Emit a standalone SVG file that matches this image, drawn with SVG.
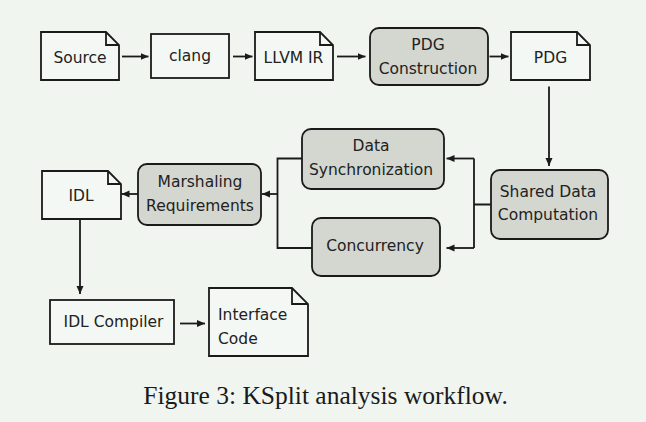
<svg xmlns="http://www.w3.org/2000/svg" width="646" height="422" viewBox="0 0 646 422">
<defs>
<marker id="ah" markerUnits="userSpaceOnUse" markerWidth="9" markerHeight="8" refX="8" refY="3.5" orient="auto">
<path d="M0,0 L8,3.5 L0,7 z" fill="#1a1a1a"/>
</marker>
<style>
.doc{fill:#f4f8f4;stroke:#1a1a1a;stroke-width:1.8;stroke-linejoin:miter}
.fold{fill:none;stroke:#1a1a1a;stroke-width:1.8}
.box{fill:#f4f8f4;stroke:#1a1a1a;stroke-width:1.8}
.proc{fill:#d3d7cf;stroke:#1a1a1a;stroke-width:1.8}
.t{font-family:"DejaVu Sans",sans-serif;font-size:15.5px;fill:#222;text-anchor:middle}
.tl{font-family:"DejaVu Sans",sans-serif;font-size:15.5px;fill:#222}
.c{fill:none;stroke:#1a1a1a;stroke-width:1.8}
.a{fill:none;stroke:#1a1a1a;stroke-width:1.8;marker-end:url(#ah)}
.cap{font-family:"Liberation Serif",serif;font-size:25.5px;fill:#1a1a1a;text-anchor:middle}
</style>
</defs>
<rect width="646" height="422" fill="#f0f5f0"/>

<g id="source">
<path class="doc" d="M41,32 H106 L119,45 V80 H41 Z"/>
<path class="fold" d="M106,32 V45 H119"/>
<text class="t" x="80" y="62.5">Source</text>
</g>
<g id="clang">
<rect class="box" x="151" y="34" width="78" height="44"/>
<text class="t" x="190" y="61">clang</text>
</g>
<g id="llvm">
<path class="doc" d="M255,32 H320 L333,45 V80 H255 Z"/>
<path class="fold" d="M320,32 V45 H333"/>
<text class="t" x="293.5" y="62.5">LLVM IR</text>
</g>
<g id="pdgc">
<rect class="proc" x="370" y="28" width="118" height="57" rx="9"/>
<text class="t" x="428" y="49.5">PDG</text>
<text class="t" x="428" y="73.5">Construction</text>
</g>
<g id="pdg">
<path class="doc" d="M511,32 H577 L590,45 V80 H511 Z"/>
<path class="fold" d="M577,32 V45 H590"/>
<text class="t" x="550.5" y="62.5">PDG</text>
</g>
<g id="shared">
<rect class="proc" x="491" y="170" width="117" height="69" rx="9"/>
<text class="t" x="548" y="197">Shared Data</text>
<text class="t" x="548" y="220">Computation</text>
</g>
<g id="datasync">
<rect class="proc" x="302" y="129" width="142" height="60" rx="9"/>
<text class="t" x="371" y="150.5">Data</text>
<text class="t" x="371" y="175">Synchronization</text>
</g>
<g id="concurrency">
<rect class="proc" x="312" y="218" width="128" height="58" rx="9"/>
<text class="t" x="375" y="250.5">Concurrency</text>
</g>
<g id="marshaling">
<rect class="proc" x="138" y="164" width="123" height="61" rx="9"/>
<text class="t" x="200" y="186.5">Marshaling</text>
<text class="t" x="200" y="210.5">Requirements</text>
</g>
<g id="idl">
<path class="doc" d="M42,171 H108 L121,184 V219 H42 Z"/>
<path class="fold" d="M108,171 V184 H121"/>
<text class="t" x="81" y="200.5">IDL</text>
</g>
<g id="idlcompiler">
<rect class="box" x="50" y="300" width="124" height="44"/>
<text class="t" x="113.5" y="326.5">IDL Compiler</text>
</g>
<g id="interface">
<path class="doc" d="M209,288 H292 L308,304 V356 H209 Z"/>
<path class="fold" d="M292,288 V304 H308"/>
<text class="tl" x="218" y="320">Interface</text>
<text class="tl" x="218" y="343.5">Code</text>
</g>

<g id="connectors">
<path class="a" d="M122,56.5 H148.5"/>
<path class="a" d="M233,56.5 H252.5"/>
<path class="a" d="M337,56.5 H365.5"/>
<path class="a" d="M489.5,56.5 H508.5"/>
<path class="a" d="M549,86.5 V166"/>
<path class="c" d="M491,204.5 H474 M474,158.5 V248"/>
<path class="a" d="M474,158.5 H446.5"/>
<path class="a" d="M474,248 H446.5"/>
<path class="c" d="M302,158.5 H277.5 V248 H312"/>
<path class="a" d="M277.5,194 H262"/>
<path class="a" d="M138,194 H121.5"/>
<path class="a" d="M80,219 V294"/>
<path class="a" d="M180,323.5 H205"/>
</g>

<text class="cap" x="325.5" y="404">Figure 3: KSplit analysis workflow.</text>
</svg>
